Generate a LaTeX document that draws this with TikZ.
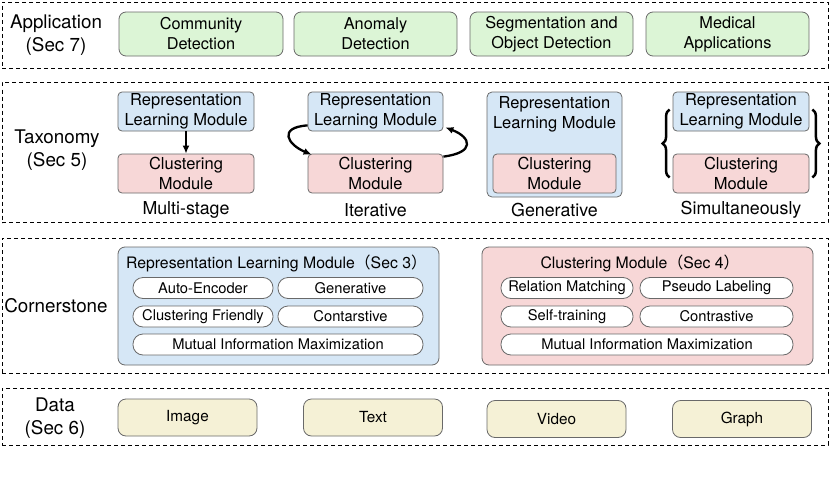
\documentclass[tikz,border=0pt]{standalone}
\usepackage{fontspec}
\setmainfont{TeX Gyre Heros}
\newfontfamily\cjk{Noto Sans CJK SC}
\usetikzlibrary{arrows.meta,decorations.pathreplacing,calc}
\definecolor{gfill}{RGB}{220,245,214}
\definecolor{bfill}{RGB}{214,231,246}
\definecolor{pfill}{RGB}{247,215,215}
\definecolor{yfill}{RGB}{245,241,214}
\definecolor{edge}{RGB}{105,105,105}
\begin{document}
\begin{tikzpicture}[x=1pt,y=-1pt,
  sect/.style={draw=black, dash pattern=on 4pt off 3pt, line width=1pt, inner sep=0pt},
  lab/.style={align=center, font=\fontsize{18.8}{23}\selectfont},
  captxt/.style={font=\fontsize{17.8}{20}\selectfont, inner sep=0pt},
  appbox/.style={draw=edge, fill=gfill, rounded corners=7pt, line width=0.8pt, align=center,
    font=\fontsize{16.3}{20}\selectfont, minimum width=163pt, minimum height=44pt, inner sep=0pt},
  tbox/.style={draw=edge, rounded corners=4pt, line width=0.8pt, align=center,
    font=\fontsize{16.5}{20}\selectfont, minimum width=136pt, minimum height=39pt, inner sep=0pt},
  cont/.style={draw=edge, rounded corners=7pt, line width=0.8pt, minimum height=118pt, inner sep=0pt},
  ttl/.style={font=\fontsize{15.8}{18}\selectfont, inner sep=0pt},
  pill/.style={draw=edge, fill=white, rounded corners=10pt, line width=0.8pt,
    font=\fontsize{14.7}{16}\selectfont, minimum height=21pt, inner sep=0pt},
  dbox/.style={draw=edge, fill=yfill, rounded corners=8pt, line width=0.8pt,
    font=\fontsize{15.3}{17}\selectfont, minimum width=139pt, minimum height=37pt, inner sep=0pt},
  arr/.style={-{Latex[length=8pt,width=7pt]}, line width=2.3pt},
  brc/.style={decorate, decoration={brace, amplitude=7pt}, line width=2.5pt}
]
\useasboundingbox (0,0) rectangle (830,482);

% sections
\node[sect, minimum width=826pt, minimum height=66pt] (secApp) at (415,35) {};
\node[sect, minimum width=826pt, minimum height=140pt] (secTax) at (415,152.5) {};
\node[sect, minimum width=826pt, minimum height=135pt] (secCor) at (415,305.5) {};
\node[sect, minimum width=826pt, minimum height=57pt] (secDat) at (415,416.5) {};

% labels
\node[lab] (lApp) at (56,35) {Application\\(Sec 7)};
\node[lab] (lTax) at (57,150) {Taxonomy\\(Sec 5)};
\node[lab] (lCor) at (56,306) {Cornerstone};
\node[lab] (lDat) at (55,418) {Data\\(Sec 6)};

% application
\node[appbox, minimum width=164pt] (aCom) at (201,34) {Community\\Detection};
\node[appbox] (aAno) at (375.5,34) {Anomaly\\Detection};
\node[appbox] (aSeg) at (551.5,34) {Segmentation and\\Object Detection};
\node[appbox] (aMed) at (727.5,34) {Medical\\Applications};

% taxonomy: multi-stage
\node[tbox, fill=bfill] (msR) at (186,111.5) {Representation\\Learning Module};
\node[tbox, fill=pfill] (msC) at (186,173.5) {Clustering\\Module};
\draw[arr] (msR.south) -- (msC.north);
\node[captxt] (capMS) at (186,210) {Multi-stage};

% iterative
\node[tbox, fill=bfill, minimum width=135pt] (itR) at (375.5,111.5) {Representation\\Learning Module};
\node[tbox, fill=pfill, minimum width=135pt] (itC) at (375.5,173.5) {Clustering\\Module};
\draw[arr] ($(itR.south west)+(0,-6)$) .. controls +(-30,2) and +(-24,-10) .. ($(itC.north west)+(4,1)$);
\draw[arr] ($(itC.north east)+(0,3)$) .. controls +(32,-4) and +(26,10) .. ($(itR.south east)+(2,-4)$);
\node[captxt] (capIt) at (375.5,210) {Iterative};

% generative
\node[tbox, fill=bfill, minimum width=135pt, minimum height=105pt, rounded corners=5pt] (genO) at (554.5,144.5) {};
\node[align=center, font=\fontsize{16.5}{20}\selectfont, inner sep=0pt] (genT) at (554.5,114) {Representation\\Learning Module};
\node[tbox, fill=pfill, minimum width=123pt] (genC) at (554.5,173.5) {Clustering\\Module};
\node[captxt] (capGen) at (554.5,210) {Generative};

% simultaneously
\node[tbox, fill=bfill] (smR) at (741,111.5) {Representation\\Learning Module};
\node[tbox, fill=pfill] (smC) at (741,173.5) {Clustering\\Module};
\draw[brc] ($(smC.west)+(-3,4)$) -- ($(smR.west)+(-3,-2)$);
\draw[brc] ($(smR.east)+(3,-2)$) -- ($(smC.east)+(3,4)$);
\node[captxt] (capSim) at (741,210) {Simultaneously};

% cornerstone
\node[cont, fill=bfill, minimum width=321pt] (repC) at (278.5,306) {};
\node[ttl] (repT) at (276.5,263) {Representation Learning Module{\cjk （}Sec 3{\cjk ）}};
\node[pill, minimum width=140pt] (pAE) at (203,288) {Auto-Encoder};
\node[pill, minimum width=145pt] (pGen) at (350.5,288) {Generative};
\node[pill, minimum width=140pt] (pCF) at (203,316.5) {Clustering Friendly};
\node[pill, minimum width=145pt] (pCon) at (350.5,316.5) {Contarstive};
\node[pill, minimum width=290pt] (pMI) at (278,344.5) {Mutual Information Maximization};

\node[cont, fill=pfill, minimum width=331pt] (cluC) at (647.5,306) {};
\node[ttl] (cluT) at (640,263) {Clustering Module{\cjk （}Sec 4{\cjk ）}};
\node[pill, minimum width=132pt] (pRM) at (567,288) {Relation Matching};
\node[pill, minimum width=153pt] (pPL) at (716.5,288) {Pseudo Labeling};
\node[pill, minimum width=132pt] (pST) at (567,316.5) {Self-training};
\node[pill, minimum width=153pt] (pCo) at (716.5,316.5) {Contrastive};
\node[pill, minimum width=292pt] (pMI2) at (647,344.5) {Mutual Information Maximization};

% data
\node[dbox] (dImg) at (187.5,417.5) {Image};
\node[dbox] (dTxt) at (373,417.5) {Text};
\node[dbox] (dVid) at (556.5,419) {Video};
\node[dbox] (dGra) at (742,419) {Graph};
\end{tikzpicture}
\end{document}
